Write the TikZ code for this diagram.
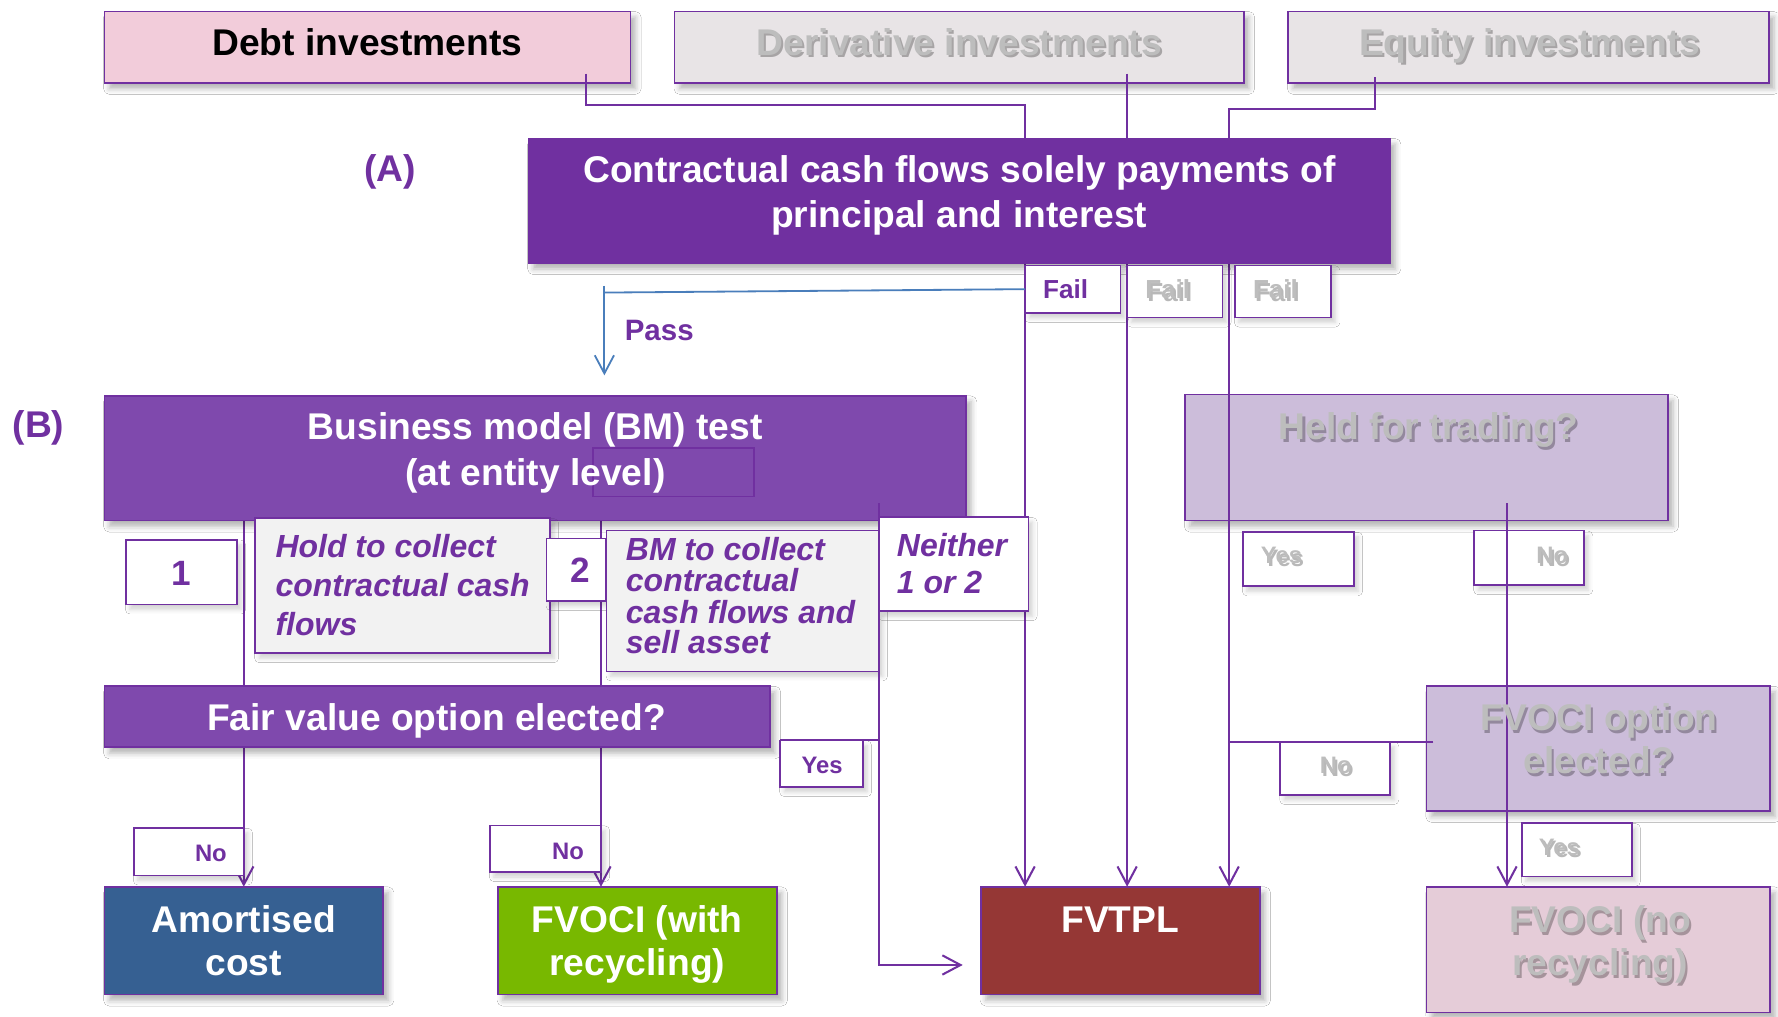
\documentclass[tikz,border=0pt]{standalone}
\usepackage{fontspec}
\setmainfont{Liberation Sans}
\usetikzlibrary{arrows.meta,fit,calc,shadows.blur}

\definecolor{pdark}{HTML}{7030A0}
\definecolor{pmid}{HTML}{7F49AD}
\definecolor{pline}{HTML}{7030A0}
\definecolor{pinkf}{HTML}{F2CCDA}
\definecolor{greyf}{HTML}{E8E4E6}
\definecolor{greyt}{HTML}{BDBDBD}
\definecolor{lightf}{HTML}{F2F2F2}
\definecolor{lilac}{HTML}{CCBDDA}
\definecolor{rosef}{HTML}{E5CCD8}
\definecolor{amblue}{HTML}{366092}
\definecolor{ocigreen}{HTML}{78B800}
\definecolor{tplred}{HTML}{953735}
\definecolor{passblue}{HTML}{4A7EBB}

% greyed-out text with a soft dark shadow behind it
\newcommand\ghost[4]{%
  \node[#3, text=black, text opacity=0.28] (#1s) at ($(#2)+(1.8,2.6)$) {#4};
  \node[#3, text=greyt] (#1) at (#2) {#4};}

\begin{document}
\begin{tikzpicture}[x=0.5pt,y=-0.5pt,
  box/.style={inner sep=0pt, outer sep=0pt, draw=pline, line width=0.7pt,
    blur shadow={shadow xshift=2.2pt, shadow yshift=-2.6pt, shadow blur radius=2.5pt, shadow opacity=30}},
  tag/.style={inner sep=0pt, outer sep=0pt, draw=pline, line width=0.7pt, fill=white,
    blur shadow={shadow xshift=1.8pt, shadow yshift=-2.2pt, shadow blur radius=2pt, shadow opacity=18}},
  wire/.style={draw=pline, line width=0.9pt},
  arr/.style={-{Straight Barb[length=8pt,width=8.5pt]}},
  passline/.style={draw=passblue, line width=0.8pt},
  txt/.style={anchor=base, inner sep=0pt, outer sep=0pt},
  big/.style={txt, font=\bfseries\fontsize{16.4}{19}\selectfont},
  ital/.style={txt, anchor=base west, text=pdark, font=\bfseries\itshape\fontsize{14.1}{17}\selectfont},
  num/.style={txt, text=pdark, font=\bfseries\fontsize{15.5}{18}\selectfont},
  passtxt/.style={txt, anchor=base west, text=pdark, font=\bfseries\fontsize{13}{15}\selectfont},
  failtxt/.style={txt, anchor=base west, font=\bfseries\fontsize{11.5}{13}\selectfont},
  small/.style={txt, font=\bfseries\fontsize{10.5}{12}\selectfont},
  smallw/.style={small, anchor=base west},
]
\useasboundingbox (0,0) rectangle (1568,896);
\fill[white] (0,0) rectangle (1568,896);

% ---------- source boxes and greyed-out branch (under the connectors) ----------
\node[box, fill=pinkf, fit={(92,10) (556,73)}] (debt) {};
\node[box, fill=greyf, fit={(595,10) (1097,73)}] (deriv) {};
\node[box, fill=greyf, fit={(1136,10) (1560,73)}] (equity) {};
\node[box, fill=lilac, fit={(1045,348) (1471,459)}] (held) {};
\node[box, fill=lilac, fit={(1258,605) (1561,715)}] (fvopt) {};
\node[box, fill=rosef, fit={(1258,782) (1561,893)}] (fvocino) {};
\node[tag, fit={(1096,469) (1194,517)}] (heldyes) {};
\node[tag, fit={(1300,468) (1397,516)}] (heldno) {};
\node[tag, fit={(1129,654) (1226,701)}] (eqno) {};
\node[tag, fit={(1342,726) (1439,773)}] (optyes) {};

% ---------- outcome boxes ----------
\node[box, fill=amblue, fit={(92,782) (338,877)}] (amort) {};
\node[box, fill=ocigreen, fit={(439,782) (685,877)}] (fvoci) {};
\node[box, fill=tplred, fit={(865,782) (1111,877)}] (fvtpl) {};

% ---------- connectors running beneath the test boxes ----------
\coordinate (d0) at (517,65);  \coordinate (d1) at (904,93);
\coordinate (v0) at (994,65);
\coordinate (e0) at (1213,68); \coordinate (e1) at (1084,96);
\coordinate (b1) at (215,459);
\coordinate (b2) at (530,459);
\coordinate (h0) at (1329,444);
\coordinate (o0) at (1264,654);
\draw[wire, arr] (d0) |- (d1) -- (d1 |- fvtpl.north);
\draw[wire, arr] (v0) -- (v0 |- fvtpl.north);
\draw[wire, arr] (e0) |- (e1) -- (e1 |- fvtpl.north);
\draw[wire, arr] (b1) -- (b1 |- amort.north);
\draw[wire, arr] (b2) -- (b2 |- fvoci.north);
\draw[wire, arr] (h0) -- (h0 |- fvocino.north);
\draw[wire] (o0) -- (o0 -| e1);

% ---------- test boxes and labels ----------
\node[box, fill=pdark, fit={(466,122) (1226,232)}] (A) {};
\node[tag, fit={(904,234) (988,276)}] (fail1) {};
\node[tag, fit={(994,234) (1078,280)}] (fail2) {};
\node[tag, fit={(1089,234) (1174,280)}] (fail3) {};
\node[box, fill=pmid, fit={(92,349) (852,459)}] (B) {};
\node[draw=pdark, line width=0.7pt, inner sep=0pt, fit={(523,395) (665,438)}] (Bmark) {};
\node[tag, fit={(111,476) (209,533)}] (one) {};
\node[tag, fill=lightf, fit={(225,457) (485,576)}] (hold) {};
\node[tag, fit={(482,475) (534,530)}] (two) {};
\node[tag, fill=lightf, fit={(535,468) (775,592)}] (bm) {};
\node[tag, fit={(775,456) (907,539)}] (neither) {};
\node[box, fill=pmid, fit={(92,605) (679,659)}] (fvo) {};
\node[tag, fit={(688,653) (761,694)}] (yes) {};
\node[tag, fit={(118,730) (215,772)}] (no1) {};
\node[tag, fit={(432,728) (530,769)}] (no2) {};

% ---------- pass branch and "neither" branch ----------
\coordinate (p0) at (533,252); \coordinate (p1) at (533,258); \coordinate (p2) at (533,331);
\draw[passline] (fail1.west) -- (p1);
\draw[passline, arr] (p0) -- (p2);
\coordinate (b3) at (775,444); \coordinate (b4) at (849,851);
\draw[wire, arr] (b3) |- (b4);
\draw[wire] (yes.north west) -- (yes.north west -| b3);

% ---------- texts ----------
\node[big] (tdebt) at (324,48.5) {Debt investments};
\ghost{tderiv}{846,48.5}{big}{Derivative investments}
\ghost{tequity}{1349,48.5}{big}{Equity investments}

\node[big, text=pdark] (tA) at (344,160) {(A)};
\node[big, text=white] (tA1) at (846,160.5) {Contractual cash flows solely payments of};
\node[big, text=white] (tA2) at (846,200.5) {principal and interest};

\node[failtxt, text=pdark] (tf1) at (920,263) {Fail};
\ghost{tf2}{1010,263}{failtxt}{Fail}
\ghost{tf3}{1105,263}{failtxt}{Fail}
\node[passtxt] (tpass) at (551,300) {Pass};

\node[big, text=pdark] (tB) at (34,386) {(B)};
\node[big, text=white] (tB1) at (472,388) {Business model (BM) test};
\node[big, text=white] (tB2) at (472,428) {(at entity level)};

\node[num] (t1) at (160,516) {1};
\node[num] (t2) at (512,514) {2};
\node[ital] (th1) at (243,492) {Hold to collect};
\node[ital] (th2) at (243,526) {contractual cash};
\node[ital] (th3) at (243,560) {flows};
\node[ital] (tm1) at (552,494) {BM to collect};
\node[ital] (tm2) at (552,522) {contractual};
\node[ital] (tm3) at (552,550) {cash flows and};
\node[ital] (tm4) at (552,576) {sell asset};
\node[ital] (tn1) at (791,491) {Neither};
\node[ital] (tn2) at (791,523) {1 or 2};

\node[big, text=white] (tfvo) at (385,644) {Fair value option elected?};
\node[small, text=pdark] (tyes) at (725,682) {Yes};
\node[small, text=pdark] (tno1) at (186,760) {No};
\node[small, text=pdark] (tno2) at (501,758) {No};

\node[big, text=white] (tam1) at (215,822) {Amortised};
\node[big, text=white] (tam2) at (215,860) {cost};
\node[big, text=white] (toc1) at (562,822) {FVOCI (with};
\node[big, text=white] (toc2) at (562,860) {recycling)};
\node[big, text=white] (ttpl) at (988,822) {FVTPL};
\ghost{tnr1}{1411,822}{big}{FVOCI (no}
\ghost{tnr2}{1411,860}{big}{recycling)}

\ghost{theld}{1260,388}{big}{Held for trading?}
\ghost{thy}{1112,497}{smallw}{Yes}
\ghost{thn}{1355,497}{smallw}{No}
\ghost{top1}{1410,644}{big}{FVOCI option}
\ghost{top2}{1410,682}{big}{elected?}
\ghost{teqn}{1164,682}{smallw}{No}
\ghost{toy}{1357,754}{smallw}{Yes}
\end{tikzpicture}
\end{document}
